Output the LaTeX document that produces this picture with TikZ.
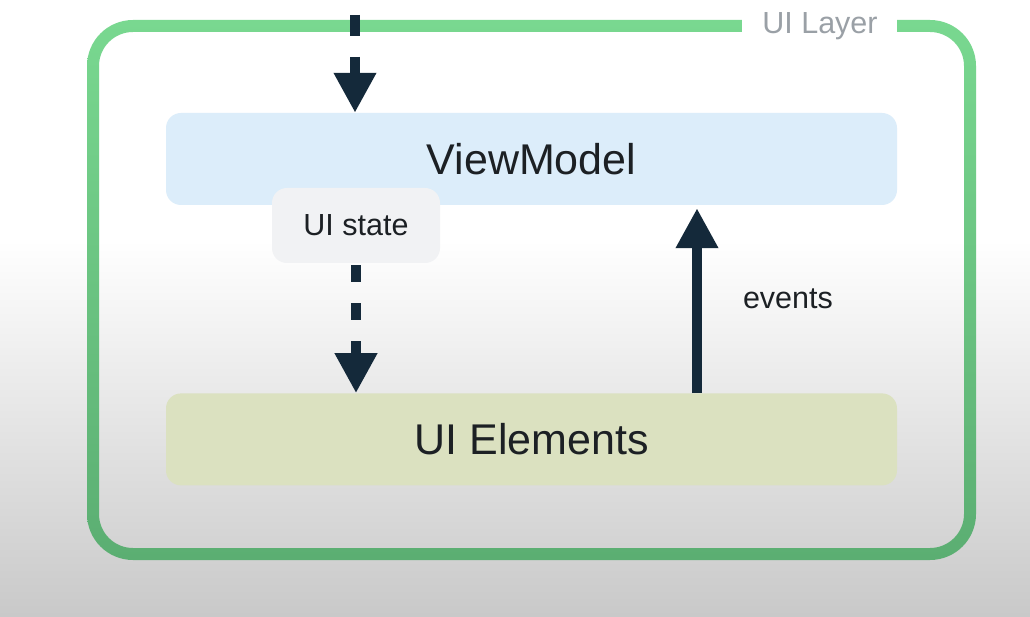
\documentclass[tikz,border=0pt]{standalone}
\usepackage{fontspec}
\setmainfont{Liberation Sans}
\usetikzlibrary{arrows.meta,positioning}
\definecolor{framegtop}{HTML}{79D890}
\definecolor{framegbot}{HTML}{5BAE72}
\definecolor{vmfill}{HTML}{DCEDFA}
\definecolor{statefill}{HTML}{F1F2F4}
\definecolor{elemfill}{HTML}{DBE1C0}
\definecolor{arrowc}{HTML}{14293A}
\definecolor{inkc}{HTML}{1C2024}
\definecolor{layerc}{HTML}{9AA0A6}
\definecolor{bggray}{HTML}{C9C9C9}
\tikzset{
  flow/.style={line width=10pt,arrowc,-{Triangle[width=40pt,length=40pt]}},
  dflow/.style={flow,dash pattern=on 21pt off 21pt},
  layerbox/.style={rounded corners=15pt,inner sep=0pt,text=inkc,minimum width=731pt,minimum height=92pt,font=\fontsize{43}{50}\selectfont},
  statebox/.style={rounded corners=15pt,inner sep=0pt,fill=statefill,text=inkc,minimum width=168pt,minimum height=75pt,font=\fontsize{30.5}{36}\selectfont},
  lbl/.style={inner sep=0pt,font=\fontsize{30.5}{36}\selectfont}
}
\begin{document}
\begin{tikzpicture}[x=1pt,y=1pt]
\useasboundingbox (0,0) rectangle (1030,616);
% background
\fill[white] (0,0) rectangle (1030,616);
\shade[top color=white,bottom color=bggray] (0,0) rectangle (1030,376);
% layer frame
\shade[top color=framegtop,bottom color=framegbot,even odd rule]
  [rounded corners=46pt] (87,56) rectangle (976,596)
  [rounded corners=34pt] (99,68) rectangle (964,584);
\fill[white] (742,582) rectangle (897,600);
\node[lbl,text=layerc] (layer) at (820,590) {UI Layer};
% boxes
\node[layerbox,fill=vmfill] (vm) at (531.5,457) {ViewModel};
\node[layerbox,fill=elemfill,below=188pt of vm] (elem) {UI Elements};
\node[statebox] (state) at (356,390.5) {UI state};
% flows
\coordinate (feed) at (355,601);
\draw[dflow] (feed) -- (feed |- vm.north);
\draw[flow,dash pattern=on 17pt off 21pt] ([yshift=-2pt]state.south) -- (state.south |- elem.north);
\coordinate (evx) at (697,0);
\draw[flow,shorten >=3pt] (elem.north -| evx) -- (vm.south -| evx)
  node[midway,right=41pt,lbl,text=inkc] (ev) {events};
\end{tikzpicture}
\end{document}
